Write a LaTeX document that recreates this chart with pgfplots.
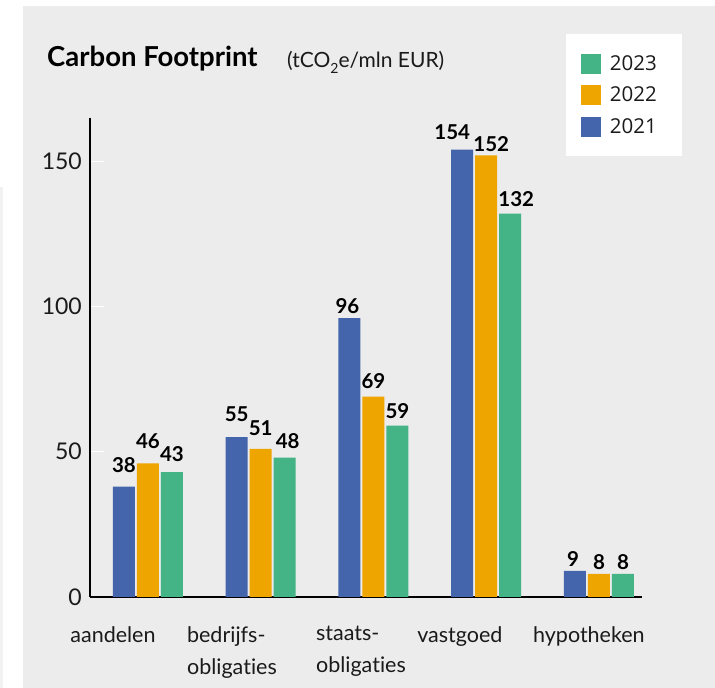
\documentclass[border=0pt]{standalone}
\usepackage{pgfplots}
\pgfplotsset{compat=1.18}
\usepackage{pgfplotstable}
\usepackage{fontspec}
\setmainfont{Lato}[Ligatures=NoCommon]
\newfontfamily\legfont{Open Sans}
\definecolor{bg}{HTML}{ECECEC}
\definecolor{cblue}{HTML}{4464AC}
\definecolor{corange}{HTML}{EFA500}
\definecolor{cgreen}{HTML}{44B486}
\definecolor{ctext}{HTML}{1A1A1A}

\pgfplotstableread{
x y dx dy
0 38 0 14
1 55 0 15
2 96 -2 4
3 154 -10 10
4 9 -2 4
}\tblA
\pgfplotstableread{
x y dx dy
0 46 0 15
1 51 0 13
2 69 0 8
3 152 5 4
4 8 0 4
}\tblB
\pgfplotstableread{
x y dx dy
0 43 0 10
1 48 3 9
2 59 0 7
3 132 6 7
4 8 0 4
}\tblC

\begin{document}
\begin{tikzpicture}[x=1pt,y=1pt]
\fill[white] (0,0) rectangle (715,688);
\fill[bg] (23,0) rectangle (715,682);
\fill[bg!70!white] (0,0) rectangle (3,501);
\node[anchor=base west, inner sep=0pt, font=\fontsize{27.5}{32}\selectfont\bfseries, text=black] at (47,621) {Carbon Footprint};
\node[anchor=base west, inner sep=0pt, font=\fontsize{21}{25}\selectfont, text=ctext] at (287,620) {(tCO\raisebox{-6pt}{\fontsize{14}{14}\selectfont 2}e/mln EUR)};
\begin{axis}[
  at={(90pt,91pt)}, anchor=south west,
  scale only axis, width=551.8pt, height=479.3pt,
  xmin=-0.514, xmax=4.38, ymin=0, ymax=165,
  axis lines=left, axis line style={-},
  x axis line style={line width=2.6pt, black},
  y axis line style={line width=1.3pt, black},
  ybar=2pt, bar width=22pt,
  clip=false,
  xtick={-0.310,0.745,1.889,2.767,3.911},
  xticklabels={aandelen, bedrijfs-\\obligaties, staats-\\obligaties, vastgoed, hypotheken},
  xticklabel style={anchor=north, align=left, inner sep=0pt, yshift=-29pt, text=ctext, font=\fontsize{21.5}{32}\selectfont},
  xtick style={draw=none},
  ytick={0,50,100,150},
  ytick style={draw=white, line width=0.8pt},
  tick align=inside, major tick length=14pt,
  yticklabel style={anchor=east, inner sep=0pt, xshift=-8pt, text=ctext, font=\fontsize{23}{23}\selectfont},
  /pgf/number format/assume math mode=true,
  reverse legend,
  legend style={at={(1.0729,1.1746)}, anchor=north east, draw=none, fill=white,
    inner xsep=15pt, inner ysep=19.5pt, row sep=11.5pt,
    font=\legfont\fontsize{20.5}{24}\selectfont, text=ctext,
    nodes={inner sep=0pt},
    /tikz/every odd column/.append style={column sep=9pt},
    /tikz/every even column/.append style={column sep=0pt}},
  legend image code/.code={\fill[#1] (0pt,-10pt) rectangle (20pt,10pt);},
  every axis plot/.append style={
    visualization depends on={\thisrow{dx} \as \dx},
    visualization depends on={\thisrow{dy} \as \dy},
    nodes near coords,
    nodes near coords style={anchor=south, inner sep=0pt, xshift=\dx pt, yshift=\dy pt, text=black, font=\fontsize{20.5}{20}\selectfont\bfseries}
  },
]
\addplot[fill=cblue, draw=none] table[x=x,y=y] {\tblA};
\addlegendentry{2021\hspace*{10pt}}
\addplot[fill=corange, draw=none] table[x=x,y=y] {\tblB};
\addlegendentry{2022\hspace*{10pt}}
\addplot[fill=cgreen, draw=none] table[x=x,y=y] {\tblC};
\addlegendentry{2023\hspace*{10pt}}
\end{axis}
\pgfresetboundingbox
\useasboundingbox (0,0) rectangle (715,688);
\end{tikzpicture}
\end{document}
